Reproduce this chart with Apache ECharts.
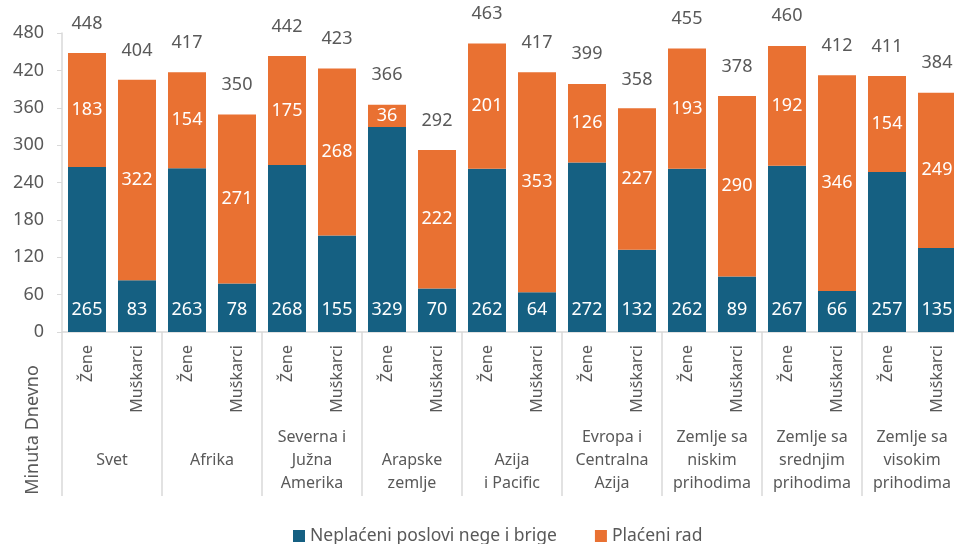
<!DOCTYPE html>
<html>
<head>
<meta charset="utf-8">
<script src="https://cdn.jsdelivr.net/npm/echarts@6/dist/echarts.min.js"></script>
<style>
  html, body { margin: 0; padding: 0; background: #fff; }
  #chart { width: 954px; height: 544px; }
</style>
</head>
<body>
<div id="chart"></div>
<script>
// podaci
const groups = ['Svet', 'Afrika', 'Severna i\nJužna\nAmerika', '\nArapske\nzemlje', '\nAzija\ni Pacific',
  'Evropa i\nCentralna\nAzija', 'Zemlje sa\nniskim\nprihodima', 'Zemlje sa\nsrednjim\nprihodima', 'Zemlje sa\nvisokim\nprihodima']
const genders = ['Žene', 'Muškarci']
const unpaid = [265, 83, 263, 78, 268, 155, 329, 70, 262, 64, 272, 132, 262, 89, 267, 66, 257, 135]
const paid = [183, 322, 154, 271, 175, 268, 36, 222, 201, 353, 126, 227, 193, 290, 192, 346, 154, 249]
const totals = [448, 404, 417, 350, 442, 423, 366, 292, 463, 417, 399, 358, 455, 378, 460, 412, 411, 384]
const yTicks = [0, 60, 120, 180, 240, 300, 360, 420, 480]

const bars = []
groups.forEach(() => genders.forEach(g => bars.push(g)))

const FONT = 'Noto Sans'
const GRAY = '#595959'
const LINE = '#d9d9d9'

const chart = echarts.init(document.getElementById('chart'))

chart.setOption({
  animation: false,
  textStyle: { fontFamily: FONT },
  // plot area runs a bit past the right edge, like the original
  grid: { left: 62, top: 33, width: 900, height: 299, containLabel: false, outerBoundsMode: 'none' },
  legend: {
    data: ['Neplaćeni poslovi nege i brige', 'Plaćeni rad'],
    left: 288, top: 522,
    icon: 'rect', itemWidth: 12, itemHeight: 12, itemGap: 38,
    textStyle: { color: GRAY, fontSize: 17.5, fontFamily: FONT }
  },
  graphic: [{
    type: 'text',
    x: 33, y: 430,
    rotation: Math.PI / 2,
    style: {
      text: 'Minuta Dnevno', fill: GRAY, fontSize: 18, fontFamily: FONT,
      align: 'center', verticalAlign: 'middle'
    }
  }],
  xAxis: [{
    type: 'category',
    data: bars,
    axisLine: { lineStyle: { color: LINE, width: 1.5 } },
    axisTick: { show: false },
    axisLabel: { rotate: 90, margin: 13, color: GRAY, fontSize: 16, fontFamily: FONT, interval: 0 }
  }, {
    type: 'category',
    data: groups,
    position: 'bottom',
    axisLine: { show: false },
    axisTick: { show: true, length: 164, lineStyle: { color: LINE, width: 1.5 } },
    axisLabel: {
      margin: 128, color: GRAY, fontSize: 16, fontFamily: FONT, interval: 0,
      lineHeight: 23, verticalAlign: 'middle', align: 'center'
    }
  }],
  yAxis: {
    type: 'value',
    min: yTicks[0], max: yTicks[yTicks.length - 1], interval: 60,
    splitLine: { show: false },
    axisLine: { show: true, lineStyle: { color: LINE, width: 1.5 } },
    axisTick: { show: true, length: 5, lineStyle: { color: LINE } },
    axisLabel: { margin: 18, color: GRAY, fontSize: 18, fontFamily: FONT }
  },
  series: [{
    name: 'Neplaćeni poslovi nege i brige',
    type: 'bar',
    stack: 'total',
    data: unpaid,
    barWidth: 38,
    itemStyle: { color: '#156082' },
    label: { show: true, position: 'insideBottom', distance: 13, color: '#fff', fontSize: 18, fontFamily: FONT }
  }, {
    name: 'Plaćeni rad',
    type: 'bar',
    stack: 'total',
    data: paid,
    barWidth: 38,
    itemStyle: { color: '#E97132' },
    label: { show: true, position: 'inside', color: '#fff', fontSize: 18, fontFamily: FONT }
  }, {
    name: 'Ukupno',
    type: 'line',
    data: totals,
    symbol: 'circle',
    symbolSize: 1,
    itemStyle: { color: 'rgba(0,0,0,0)' },
    lineStyle: { opacity: 0 },
    label: { show: true, position: 'top', distance: 20, color: GRAY, fontSize: 18, fontFamily: FONT },
    z: 5
  }]
})
</script>
</body>
</html>
